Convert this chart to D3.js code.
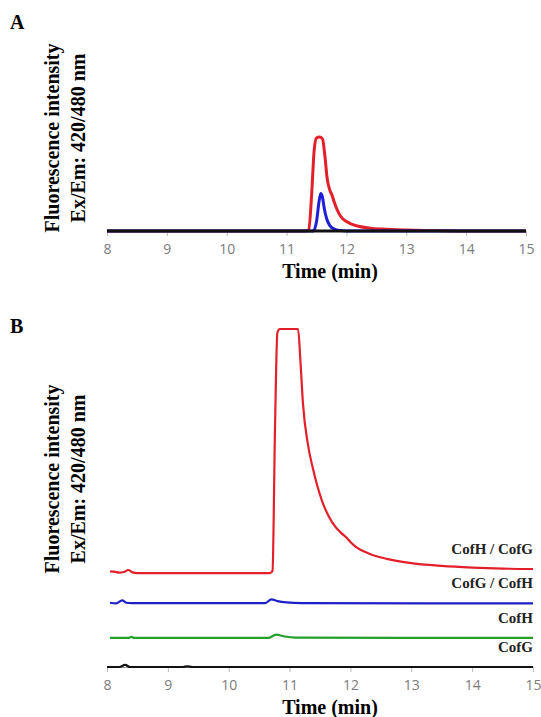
<!DOCTYPE html>
<html>
<head>
<meta charset="utf-8">
<script src="https://cdn.jsdelivr.net/npm/d3@7"></script>
<style>
  body { margin: 0; background: #fff; }
  text { font-family: "Liberation Serif", "Times New Roman", serif; }
</style>
</head>
<body>
<svg width="541" height="717"></svg>
<script>
// x ticks (min)
const ticksX = [8, 9, 10, 11, 12, 13, 14, 15];

// panel A traces: [time, intensity]
const aRed = [[8,0],[11.3,0],[11.37,1],[11.42,40],[11.46,85],[11.5,99],[11.55,100],[11.6,98],[11.64,80],[11.68,55],
  [11.72,44],[11.76,38],[11.8,30],[11.85,22],[11.9,16],[12.0,10],[12.1,7],[12.2,5],[12.4,3],[12.6,2],[13.0,1],[13.5,0.5],[14,0],[15,0]];
const aBlue = [[8,0],[11.45,0],[11.5,10],[11.54,30],[11.57,40],[11.6,36],[11.63,24],[11.67,13],[11.72,6],[11.8,2],[11.9,0.5],[12,0],[15,0]];
const aBlack = [[8,0],[15,0]];

// panel B traces (stacked chromatograms): [time, intensity]
const bRed = [[8.05,28.3],[8.12,28.2],[8.2,27.9],[8.28,28.1],[8.35,28.7],[8.42,28.0],[8.5,27.8],[10.68,27.8],[10.72,28.5],
  [10.76,70],[10.8,99],[10.84,100],[11.14,100],[11.18,90],[11.22,78],[11.3,66],[11.38,59],[11.53,49.3],[11.7,42.8],
  [11.85,39.6],[11.93,38.4],[12.0,37.0],[12.1,35.4],[12.3,33.6],[12.6,32.0],[12.97,30.8],[13.5,29.9],[14,29.4],[14.5,29.1],[15,29.0]];
const bBlue = [[8.05,19.0],[8.15,18.8],[8.25,19.7],[8.32,19.0],[8.4,18.9],[10.6,18.9],[10.7,20.0],[10.8,19.5],[10.95,19.1],[11.2,18.9],[15,18.8]];
const bGreen = [[8.05,8.6],[8.35,8.6],[8.4,8.9],[8.45,8.6],[10.65,8.6],[10.78,9.6],[10.9,9.1],[11.1,8.7],[15,8.6]];
const bBlack = [[8,0],[8.2,0],[8.3,0.6],[8.38,0],[9.25,0],[9.32,0.2],[9.4,0],[15,0]];
const labelsB = ['CofH / CofG', 'CofG / CofH', 'CofH', 'CofG'];

const svg = d3.select('svg');

function panel(letter, top, labelMid, xRange, yRange, traces, lw, labels) {
    const x = d3.scaleLinear().domain([8, 15]).range(xRange);
    const y = d3.scaleLinear().domain([0, 100]).range(yRange);
    const base = yRange[0];

    svg.append('text')
        .attr('x', 10).attr('y', top)
        .attr('font-size', 20).attr('font-weight', 'bold')
        .text(letter);

    // x axis
    const axis = svg.append('g')
        .attr('transform', `translate(0,${base})`)
        .call(d3.axisBottom(x).tickValues(ticksX).tickSize(5).tickPadding(8).tickFormat(d3.format('d')));
    axis.select('.domain').attr('stroke', '#999');
    axis.selectAll('.tick line').attr('stroke', '#bbb');
    axis.selectAll('.tick text')
        .attr('fill', '#7c7c7c')
        .style('font-family', '"Open Sans", sans-serif')
        .attr('font-size', 14);

    const line = d3.line()
        .x(d => x(d[0]))
        .y(d => y(d[1]))
        .curve(d3.curveMonotoneX);

    traces.forEach(t => {
        svg.append('path')
            .datum(t.data)
            .attr('d', line)
            .attr('fill', 'none')
            .attr('stroke', t.color)
            .attr('stroke-width', lw)
            .attr('stroke-linejoin', 'round');
    });

    if (labels) {
        traces.forEach((t, i) => {
            const last = t.data[t.data.length - 1];
            svg.append('text')
                .attr('x', 533)
                .attr('y', y(last[1]) - 15)
                .attr('text-anchor', 'end')
                .attr('font-size', 15)
                .attr('font-weight', 'bold')
                .attr('fill', '#222')
                .text(labels[i]);
        });
    }

    svg.append('text')
        .attr('x', 330).attr('y', base + 47)
        .attr('text-anchor', 'middle')
        .attr('font-size', 20).attr('font-weight', 'bold')
        .text('Time (min)');

    const yl = svg.append('text')
        .attr('transform', `translate(59,${labelMid}) rotate(-90)`)
        .attr('text-anchor', 'middle')
        .attr('font-size', 20).attr('font-weight', 'bold');
    yl.append('tspan').attr('x', 0).attr('y', 0).text('Fluorescence intensity');
    yl.append('tspan').attr('x', 0).attr('y', 26).text('Ex/Em: 420/480 nm');
}

panel('A', 29, 138, [107, 526], [231, 137], [
    {data: aRed, color: '#e3202a'},
    {data: aBlue, color: '#1f1fd6'},
    {data: aBlack, color: '#111'}
], 3, null);

panel('B', 333, 479, [107, 533], [667, 329], [
    {data: bRed, color: '#e3202a'},
    {data: bBlue, color: '#1f1fc8'},
    {data: bGreen, color: '#23a02a'},
    {data: bBlack, color: '#111'}
], 2.2, labelsB);
</script>
</body>
</html>
